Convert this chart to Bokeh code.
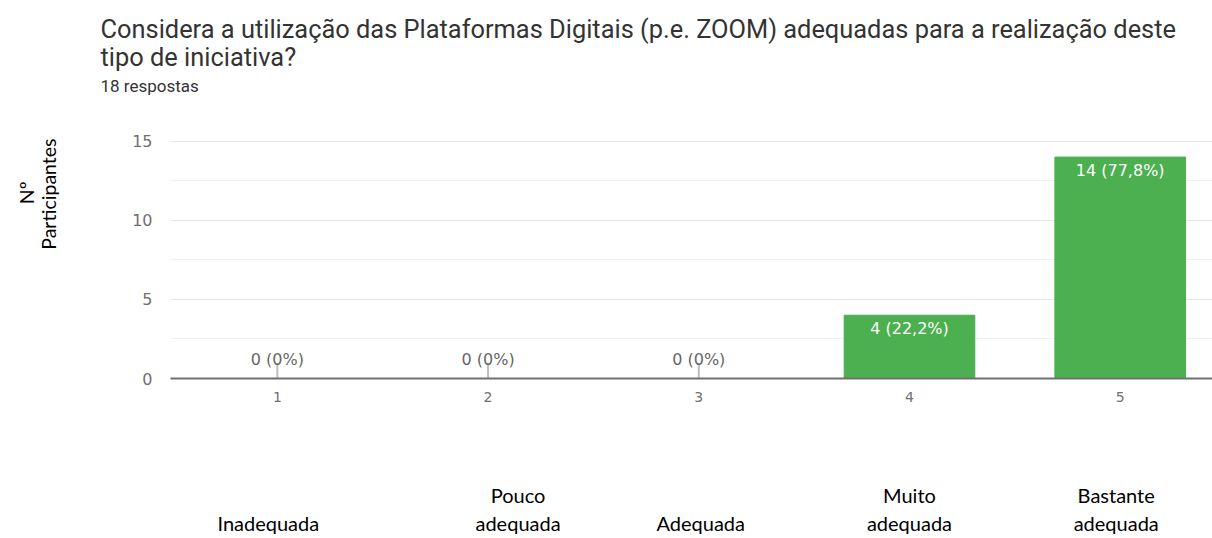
from bokeh.plotting import figure
from bokeh.models import (ColumnDataSource, FixedTicker, Range1d, Title, LinearAxis,
                          CustomJSTickFormatter)
from bokeh.core.properties import value
from bokeh.embed import file_html
from bokeh.resources import INLINE

# ---- data ----
categories = [1, 2, 3, 4, 5]
counts = [0, 0, 0, 4, 14]
pct_labels = ["0 (0%)", "0 (0%)", "0 (0%)", "4 (22,2%)", "14 (77,8%)"]
scale_names = ["\nInadequada", "Pouco\nadequada", "\nAdequada", "Muito\nadequada", "Bastante\nadequada"]
y_ticks = [0, 5, 10, 15]
y_minor = [2.5, 7.5, 12.5]
title_line1 = "Considera a utilização das Plataformas Digitais (p.e. ZOOM) adequadas para a realização deste"
title_line2 = "tipo de iniciativa?"
subtitle = "18 respostas"
y_label_1 = "Nº"
y_label_2 = "Participantes"

# ---- layout / style (not data) ----
X_START, X_END = 0.493, 5.438
FRAME_W = 1212 - 170
PX_PER_UNIT = FRAME_W / (X_END - X_START)
name_dx_px = [-9, 30, 2, 0, -4]
GREEN = "#4caf50"
GRAY = "#707070"
TITLE_COLOR = "#333333"

zero_idx = [i for i, c in enumerate(counts) if c == 0]
pos_idx = [i for i, c in enumerate(counts) if c > 0]
STUB = 1.0
zero_src = ColumnDataSource(dict(
    x=[categories[i] for i in zero_idx],
    y0=[0] * len(zero_idx),
    y1=[STUB] * len(zero_idx),
    lab=[pct_labels[i] for i in zero_idx],
))
pos_src = ColumnDataSource(dict(
    x=[categories[i] for i in pos_idx],
    top=[counts[i] for i in pos_idx],
    lab=[pct_labels[i] for i in pos_idx],
))

p = figure(width=1212, height=538, output_backend="svg", toolbar_location=None,
           x_range=Range1d(X_START, X_END), y_range=Range1d(0, 15.05),
           min_border_left=170, min_border_right=0, min_border_top=140,
           min_border_bottom=160, title=None)
p.outline_line_color = None
p.background_fill_color = "white"

p.vbar(x="x", top="top", width=0.62, source=pos_src, color=GREEN)
p.segment(x0="x", y0="y0", x1="x", y1="y1", source=zero_src,
          line_color="#bdbdbd", line_width=2)
p.text(x="x", y="y0", text="lab", source=zero_src, text_align="center",
       text_baseline="alphabetic", y_offset=-19, text_font=value("DejaVu Sans"),
       text_font_size="16px", text_color="#666666")
p.text(x="x", y="top", text="lab", source=pos_src, text_align="center",
       text_baseline="top", y_offset=4, text_font=value("DejaVu Sans"),
       text_font_size="16px", text_color="white")

# x axis (numbers)
p.xaxis.ticker = FixedTicker(ticks=categories)
p.xaxis.axis_line_color = "#707070"
p.xaxis.axis_line_width = 2
p.xaxis.major_tick_line_color = None
p.xaxis.minor_tick_line_color = None
p.xaxis.major_label_text_font = "DejaVu Sans"
p.xaxis.major_label_text_font_size = "14px"
p.xaxis.major_label_text_color = GRAY
p.xaxis.major_label_standoff = 7

# second x axis (scale names)
name_ticks = [c + d / PX_PER_UNIT for c, d in zip(categories, name_dx_px)]
names_axis = LinearAxis(ticker=FixedTicker(ticks=name_ticks),
                        formatter=CustomJSTickFormatter(args=dict(names=scale_names),
                                                        code="return names[Math.round(tick) - 1];"))
names_axis.axis_line_color = None
names_axis.major_tick_line_color = None
names_axis.minor_tick_line_color = None
names_axis.major_label_text_font = "Lato"
names_axis.major_label_text_font_size = "20px"
names_axis.major_label_text_color = "black"
names_axis.major_label_text_line_height = 1.2
names_axis.major_label_standoff = 72
p.add_layout(names_axis, "below")

# y axis
p.yaxis.ticker = FixedTicker(ticks=y_ticks, minor_ticks=y_minor)
p.yaxis.axis_line_color = None
p.yaxis.major_tick_line_color = None
p.yaxis.minor_tick_line_color = None
p.yaxis.major_label_text_font = "DejaVu Sans"
p.yaxis.major_label_text_font_size = "16px"
p.yaxis.major_label_text_color = GRAY
p.yaxis.major_label_standoff = 12

p.xgrid.grid_line_color = None
p.ygrid.grid_line_color = "#e6e6e6"
p.ygrid.minor_grid_line_color = "#f0f0f0"


def spacer(size):
    return Title(text=" ", text_font_size="1px", standoff=size)


def ttl(text, size, font, color, standoff, align="left", offset=-70):
    return Title(text=text, align=align, offset=offset, standoff=standoff,
                 text_font=font, text_font_size=size, text_font_style="normal",
                 text_color=color)


# y label as left titles (first added = closest to the plot)
p.add_layout(spacer(67), "left")
p.add_layout(ttl(y_label_2, "19.5px", "Lato", "black", 0, align="right", offset=-2), "left")
p.add_layout(ttl(y_label_1, "19.5px", "Lato", "black", -7, align="right", offset=41), "left")

# titles (first added = closest to the plot)
p.add_layout(spacer(42), "above")
p.add_layout(ttl(subtitle, "17px", "Roboto", TITLE_COLOR, 0), "above")
p.add_layout(spacer(4.6), "above")
p.add_layout(ttl(title_line2, "25.4px", "Roboto", TITLE_COLOR, -12), "above")
p.add_layout(ttl(title_line1, "25.4px", "Roboto", TITLE_COLOR, 4), "above")

open("out.html", "w").write(file_html(p, INLINE))
